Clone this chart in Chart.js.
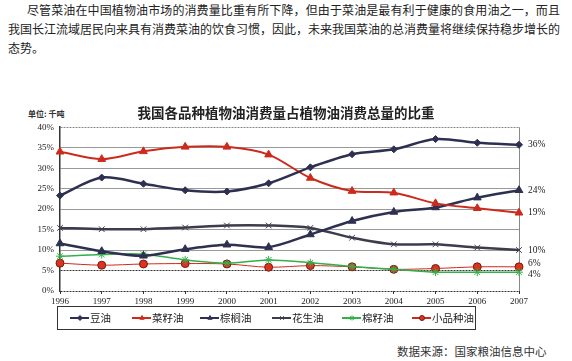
<!DOCTYPE html>
<html>
<head>
<meta charset="utf-8">
<script src="https://cdn.jsdelivr.net/npm/chart.js@4/dist/chart.umd.min.js"></script>
<style>
    body { margin: 0; width: 572px; height: 361px; background: #fff; position: relative; overflow: hidden; font-family: "Noto Sans CJK SC", sans-serif; color: #222; }
    .para { position: absolute; left: 8px; top: 0; width: 552px; font-size: 12px; line-height: 19px; }
    .para div { text-align: justify; text-align-last: justify; white-space: nowrap; }
    .para .first { padding-left: 19px; }
    .para .last { text-align-last: left; }
    #unit { position: absolute; left: 28px; top: 108px; font-size: 8px; font-weight: bold; color: #333; }
    #chart-wrap { position: absolute; left: 0; top: 90px; width: 572px; height: 250px; }
    #source { position: absolute; left: 397px; top: 343px; font-size: 11.5px; color: #333; }
</style>
</head>
<body>
<div class="para">
    <div class="first">尽管菜油在中国植物油市场的消费量比重有所下降，但由于菜油是最有利于健康的食用油之一，而且</div>
    <div>我国长江流域居民向来具有消费菜油的饮食习惯，因此，未来我国菜油的总消费量将继续保持稳步增长的</div>
    <div class="last">态势。</div>
</div>
<div id="unit">单位: 千吨</div>
<div id="chart-wrap"><canvas id="chart" width="572" height="250"></canvas></div>
<div id="source">数据来源：国家粮油信息中心</div>

<script>
// Data (% share)
const years = ['1996', '1997', '1998', '1999', '2000', '2001', '2002', '2003', '2004', '2005', '2006', '2007'];
const soybean = [23.3, 27.7, 26.2, 24.6, 24.3, 26.3, 30.2, 33.4, 34.6, 37.1, 36.2, 35.7];
const rapeseed = [34.0, 32.2, 34.1, 35.2, 35.2, 33.3, 27.6, 24.4, 24.0, 21.4, 20.2, 19.1];
const palm = [11.6, 9.7, 8.6, 10.2, 11.3, 10.7, 13.8, 17.1, 19.3, 20.4, 22.8, 24.6];
const peanut = [15.4, 15.1, 15.1, 15.5, 16.0, 16.0, 15.4, 13.0, 11.4, 11.4, 10.6, 10.0];
const cottonseed = [8.5, 8.9, 9.0, 7.6, 6.8, 7.6, 6.9, 6.0, 5.3, 4.6, 4.6, 4.6];
const minorOils = [6.8, 6.3, 6.6, 6.7, 6.6, 5.8, 6.2, 5.9, 5.3, 5.5, 5.9, 5.9];
const seriesNames = ['豆油', '菜籽油', '棕榈油', '花生油', '棉籽油', '小品种油'];
const yTicks = [0, 5, 10, 15, 20, 25, 30, 35, 40];
// end labels on the right side, with the value where each one sits
const endLabels = ['36%', '24%', '19%', '10%', '6%', '4%'];
const endLabelAt = [35.7, 24.6, 19.1, 10.0, 6.6, 4.0];

const navy = '#2d3050';
const red = '#cc2b1c';
const serif = '"Liberation Serif", "DejaVu Serif", serif';

function series(label, data, color, style, radius, width, extra) {
    return Object.assign({
        label: label,
        data: data,
        borderColor: color,
        backgroundColor: color,
        pointBackgroundColor: color,
        pointBorderColor: color,
        pointStyle: style,
        pointRadius: radius,
        pointBorderWidth: 1,
        borderWidth: width,
        tension: 0.3,
        clip: false
    }, extra || {});
}

// right-hand labels
const endLabelPlugin = {
    id: 'endLabels',
    afterDatasetsDraw(chart) {
        const ctx = chart.ctx;
        const y = chart.scales.y;
        ctx.save();
        ctx.font = '9.5px ' + serif;
        ctx.fillStyle = '#222';
        ctx.textBaseline = 'middle';
        endLabels.forEach((t, i) => {
            ctx.fillText(t, chart.chartArea.right + 9, y.getPixelForValue(endLabelAt[i]));
        });
        ctx.restore();
    }
};

// boxed legend under the axis
const boxLegendPlugin = {
    id: 'boxLegend',
    afterDraw(chart) {
        const ctx = chart.ctx;
        const left = chart.chartArea.left;
        const top = chart.chartArea.bottom + 15;
        const offsets = [10, 72, 140, 212, 282, 352];
        ctx.save();
        ctx.strokeStyle = '#333';
        ctx.lineWidth = 1;
        ctx.strokeRect(left - 2.5, top + 0.5, 418, 23);
        const cy = top + 12;
        chart.data.datasets.forEach((ds, i) => {
            const x = left + offsets[i];
            ctx.strokeStyle = ds.borderColor;
            ctx.lineWidth = 2;
            ctx.beginPath();
            ctx.moveTo(x, cy);
            ctx.lineTo(x + 19, cy);
            ctx.stroke();
            ctx.fillStyle = ds.pointBackgroundColor;
            ctx.strokeStyle = ds.pointBorderColor;
            ctx.lineWidth = 1;
            Chart.helpers.drawPoint(ctx, { pointStyle: ds.pointStyle, radius: 2.5, rotation: 0, borderWidth: 1 }, x + 10, cy);
            ctx.fillStyle = '#222';
            ctx.font = '10.5px "Noto Sans CJK SC", sans-serif';
            ctx.textBaseline = 'middle';
            ctx.fillText(ds.label, x + 20, cy);
        });
        ctx.restore();
    }
};

const ctx = document.getElementById('chart');
new Chart(ctx, {
    type: 'line',
    data: {
        labels: years,
        datasets: [
            series(seriesNames[0], soybean, navy, 'rectRot', 3.5, 2.5),
            series(seriesNames[1], rapeseed, red, 'triangle', 4.5, 2),
            series(seriesNames[2], palm, navy, 'triangle', 4.5, 2.5),
            series(seriesNames[3], peanut, '#3c3c4c', 'crossRot', 4, 2.5),
            series(seriesNames[4], cottonseed, '#33b04a', 'star', 4, 1.5),
            series(seriesNames[5], minorOils, red, 'circle', 4, 1, { pointBackgroundColor: '#d8341f', pointBorderColor: '#7a1a10' })
        ]
    },
    options: {
        responsive: false,
        animation: false,
        layout: { padding: { left: 0, right: 0, top: 0, bottom: 31 } },
        plugins: {
            legend: { display: false },
            tooltip: { enabled: false },
            title: {
                display: true,
                text: '我国各品种植物油消费量占植物油消费总量的比重',
                color: '#222',
                font: { family: '"Noto Sans CJK SC", sans-serif', size: 13.5, weight: 'bold' },
                padding: { top: 15, bottom: 6 }
            }
        },
        scales: {
            x: {
                offset: false,
                afterFit: scale => { scale.height = 18; },
                grid: {
                    drawOnChartArea: true,
                    color: c => (c.index === years.length - 1 ? '#888' : 'rgba(0,0,0,0)'),
                    tickColor: '#333',
                    tickLength: 3
                },
                border: { display: false },
                ticks: {
                    color: '#222',
                    font: { family: serif, size: 9 },
                    maxRotation: 0,
                    autoSkip: false,
                    padding: 2
                }
            },
            y: {
                min: 0,
                max: 40,
                afterFit: scale => { scale.width = 60; },
                afterBuildTicks: scale => { scale.ticks = yTicks.map(v => ({ value: v })); },
                grid: {
                    color: c => {
                        if (!c.tick) return '#999';
                        const v = c.tick.value;
                        return (v === 5 || v === 0) ? '#333' : (v === 40 ? '#888' : '#999');
                    },
                    lineWidth: 1,
                    drawTicks: false
                },
                border: {
                    display: true,
                    color: '#333',
                    width: 1.5,
                    dash: c => (c.tick && (c.tick.value === 5 || c.tick.value === 0 || c.tick.value === 40) ? [2, 1] : [])
                },
                ticks: {
                    color: '#222',
                    font: { family: serif, size: 9 },
                    padding: 6,
                    callback: v => v + '%'
                }
            },
            // empty right axis that only reserves room for the end labels
            yRight: {
                position: 'right',
                min: 0,
                max: 40,
                afterFit: scale => { scale.width = 53; },
                grid: { display: false },
                border: { display: false },
                ticks: { display: false }
            }
        }
    },
    plugins: [endLabelPlugin, boxLegendPlugin]
});
</script>
</body>
</html>
